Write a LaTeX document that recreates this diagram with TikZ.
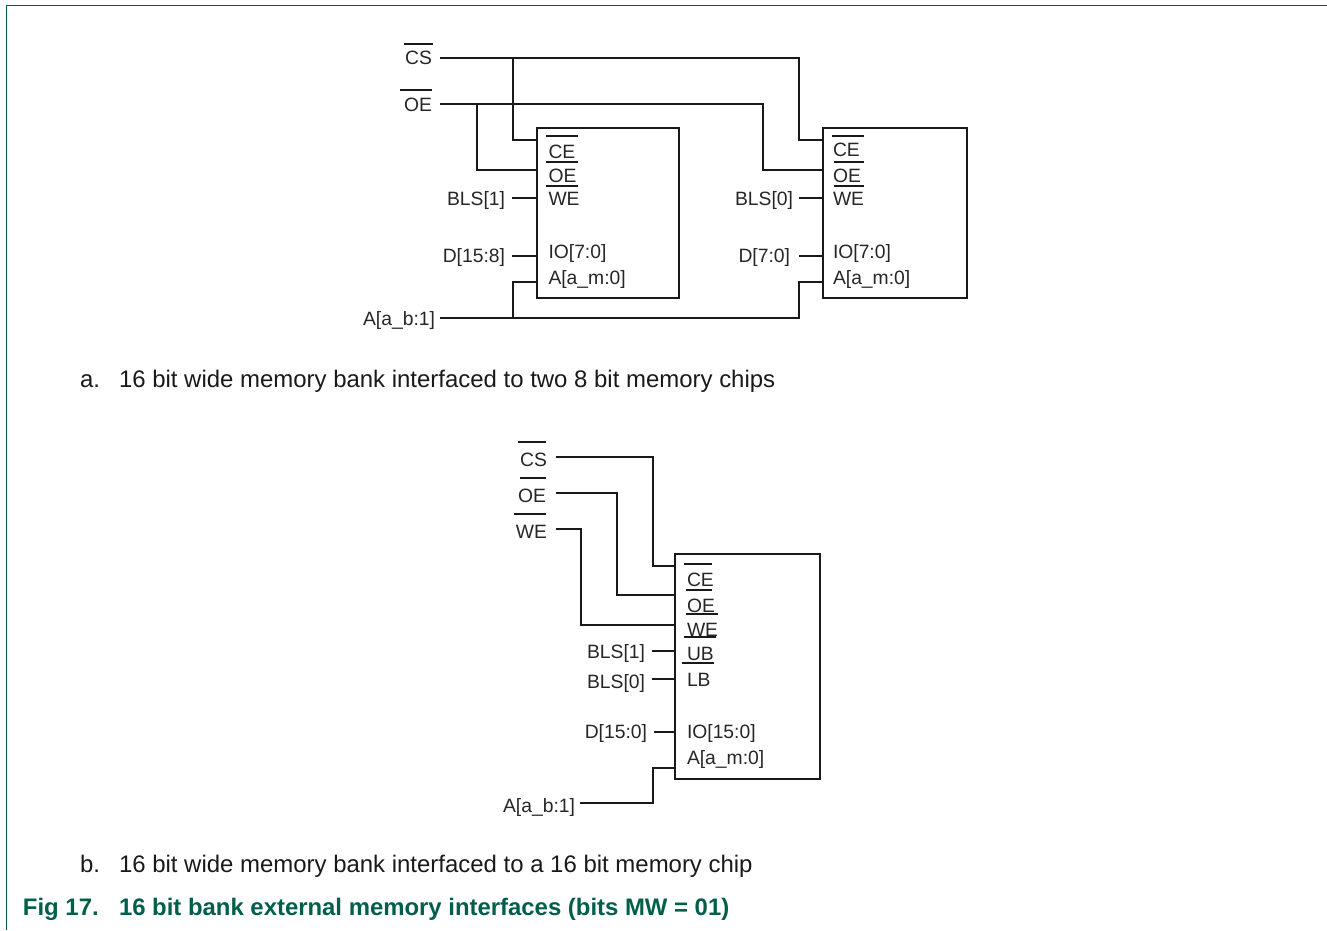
\documentclass[tikz,border=0pt]{standalone}
\usepackage{fontspec}
\setmainfont{Liberation Sans}
\definecolor{nxp}{HTML}{005F4B}
\tikzset{
  lab/.style={inner sep=0pt,outer sep=0pt,font=\fontsize{19.3}{21}\selectfont,text=black!85},
  lw/.style={lab,anchor=base west},
  le/.style={lab,anchor=base east},
  chip/.style={draw=black!90,line width=2.6pt,inner sep=0pt,outer sep=0pt,anchor=north west,line join=miter},
  wire/.style={draw=black!90,line width=2.6pt,line join=miter},
  obar/.style={draw=black!90,line width=2.4pt},
  captxt/.style={inner sep=0pt,outer sep=0pt,anchor=base west,font=\fontsize{23.95}{26}\selectfont,text=black!90},
  capbold/.style={inner sep=0pt,outer sep=0pt,anchor=base west,font=\fontsize{23.9}{26}\selectfont\bfseries,text=nxp},
}
\begin{document}
\begin{tikzpicture}[x=1pt,y=-1pt]
\useasboundingbox (0,0) rectangle (1327,930);
\draw[nxp,line width=1.7pt] (6.5,930) -- (6.5,5.5) -- (1327,5.5);
% part a, chips
\node[chip,minimum width=142pt,minimum height=170pt] (c1) at (537,128) {};
\node[chip,minimum width=144pt,minimum height=170pt] (c2) at (823,128) {};
% labels a
\node[le] (cs) at (432,64) {CS};
\node[le] (oe) at (432,111) {OE};
\node[le] (b1) at (505,205.5) {BLS[1]};
\node[le] (d1) at (505,262.5) {D[15:8]};
\node[le] (b0) at (793,205.5) {BLS[0]};
\node[le] (d0) at (790,262.5) {D[7:0]};
\node[le] (ab) at (435,325) {A[a\_b:1]};
\node[lw] (ce1) at (548.5,158) {CE};
\node[lw] (oe1) at (548.5,182.5) {OE};
\node[lw] (we1) at (548.5,205.5) {WE};
\node[lw] (io1) at (548.5,258.5) {IO[7:0]};
\node[lw] (am1) at (548.5,284.5) {A[a\_m:0]};
\node[lw] (ce2) at (833,156) {CE};
\node[lw] (oe2) at (833,182.5) {OE};
\node[lw] (we2) at (833,205.5) {WE};
\node[lw] (io2) at (833,258.5) {IO[7:0]};
\node[lw] (am2) at (833,284.5) {A[a\_m:0]};
% overbars a
\draw[obar] (404,44) -- (433,44);
\draw[obar] (400,90) -- (432,90);
\draw[obar] (546,136) -- (578,136);
\draw[obar] (546,162) -- (578,162);
\draw[obar] (546,186) -- (578,186);
\draw[obar] (832,136) -- (864,136);
\draw[obar] (834,162) -- (864,162);
\draw[obar] (834,186) -- (864,186);
% wires a
\coordinate (csa) at (440,58);
\coordinate (oea) at (440,104);
\coordinate (aba) at (440,318);
\coordinate (b1a) at (512,198);
\coordinate (d1a) at (512,256);
\coordinate (b0a) at (799,198);
\coordinate (d0a) at (799,256);
\draw[wire] (csa) -- (799,58) -- (799,140) -- (c2.west |- 0,140);
\draw[wire] (513,58) -- (513,140) -- (c1.west |- 0,140);
\draw[wire] (oea) -- (763,104) -- (763,170) -- (c2.west |- 0,170);
\draw[wire] (477,104) -- (477,170) -- (c1.west |- 0,170);
\draw[wire] (b1a) -- (c1.west |- b1a);
\draw[wire] (d1a) -- (c1.west |- d1a);
\draw[wire] (b0a) -- (c2.west |- b0a);
\draw[wire] (d0a) -- (c2.west |- d0a);
\draw[wire] (aba) -- (799,318) -- (799,282) -- (c2.west |- 0,282);
\draw[wire] (513,318) -- (513,282) -- (c1.west |- 0,282);
% captions
\node[captxt] (capa) at (80,387) {a.};
\node[captxt] (capat) at (119,387) {16 bit wide memory bank interfaced to two 8 bit memory chips};
% part b
\node[chip,minimum width=145pt,minimum height=225pt] (c3) at (675,554) {};
\node[le] (cs3) at (547,466) {CS};
\node[le] (oe3) at (546,502) {OE};
\node[le] (we3) at (547,538) {WE};
\node[le] (b13) at (645,658.5) {BLS[1]};
\node[le] (b03) at (645,688) {BLS[0]};
\node[le] (d3) at (647,738.5) {D[15:0]};
\node[le] (ab3) at (575,812.5) {A[a\_b:1]};
\node[lw] (ce3) at (687,586) {CE};
\node[lw] (oe3i) at (687,612) {OE};
\node[lw] (we3i) at (687,636) {WE};
\node[lw] (ub3) at (687,660) {UB};
\node[lw] (lb3) at (687,686) {LB};
\node[lw] (io3) at (687,738.5) {IO[15:0]};
\node[lw] (am3) at (687,764.5) {A[a\_m:0]};
\draw[obar] (518,442) -- (546,442);
\draw[obar] (520,478) -- (546,478);
\draw[obar] (514,514) -- (546,514);
\draw[obar] (684,564) -- (712,564);
\draw[obar] (686,590) -- (712,590);
\draw[obar] (686,614) -- (718,614);
\draw[obar] (684,637) -- (716,637);
\draw[obar] (682,663) -- (714,663);
\coordinate (cs3a) at (556,457);
\coordinate (oe3a) at (556,493);
\coordinate (we3a) at (556,529);
\coordinate (b13a) at (652,651);
\coordinate (b03a) at (652,679);
\coordinate (d3a) at (654,732);
\coordinate (ab3a) at (580,803);
\draw[wire] (cs3a) -- (653,457) -- (653,566) -- (c3.west |- 0,566);
\draw[wire] (oe3a) -- (617,493) -- (617,595) -- (c3.west |- 0,595);
\draw[wire] (we3a) -- (581,529) -- (581,625) -- (c3.west |- 0,625);
\draw[wire] (b13a) -- (c3.west |- b13a);
\draw[wire] (b03a) -- (c3.west |- b03a);
\draw[wire] (d3a) -- (c3.west |- d3a);
\draw[wire] (ab3a) -- (653,803) -- (653,768) -- (c3.west |- 0,768);
\node[captxt] (capb) at (80,872) {b.};
\node[captxt] (capbt) at (119,872) {16 bit wide memory bank interfaced to a 16 bit memory chip};
\node[capbold] (figl) at (23,915) {Fig 17.};
\node[capbold] (figt) at (119,915) {16 bit bank external memory interfaces (bits MW = 01)};
\end{tikzpicture}
\end{document}
